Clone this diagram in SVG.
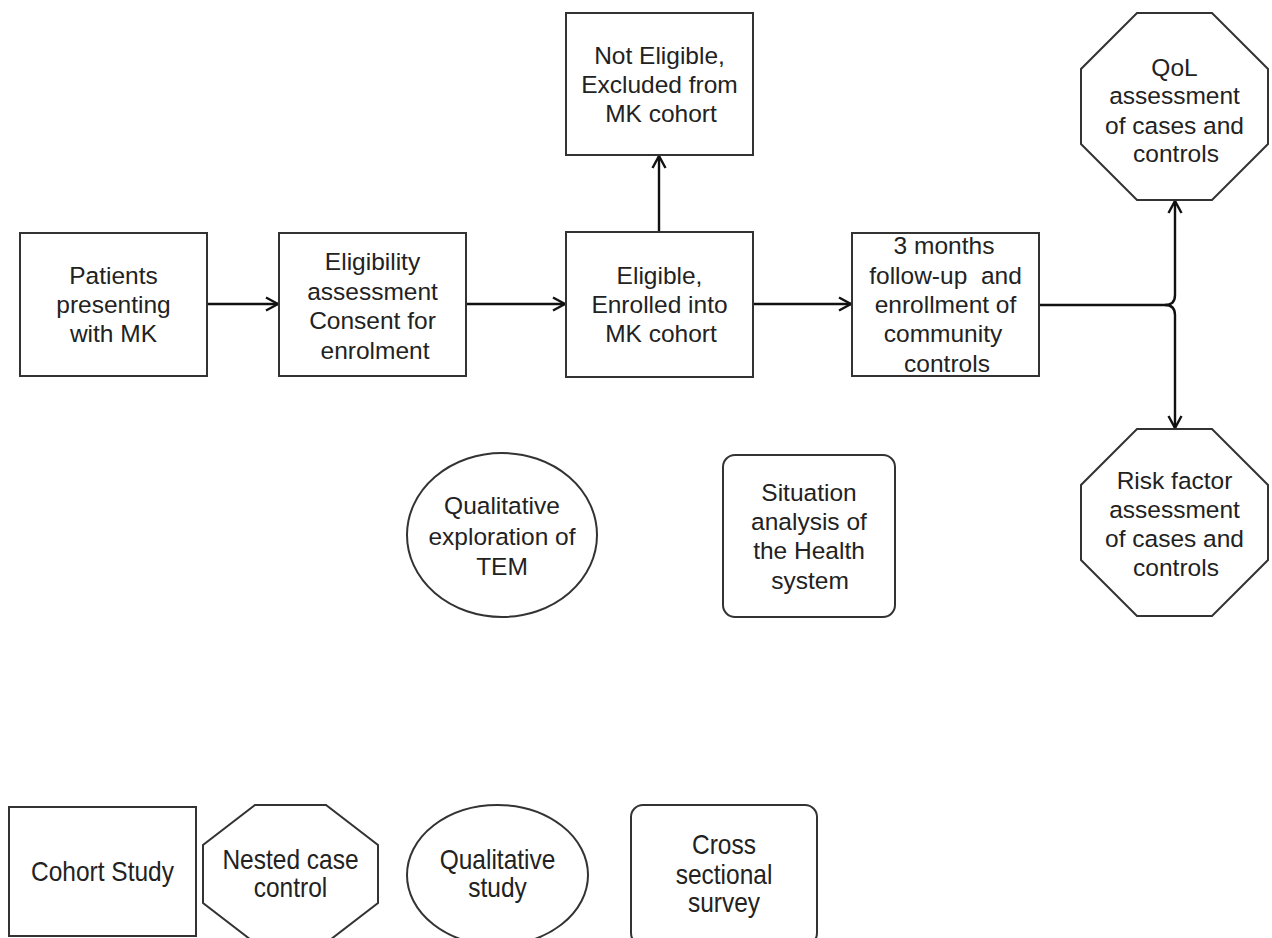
<svg xmlns="http://www.w3.org/2000/svg" width="1272" height="938" viewBox="0 0 1272 938">
  <style>
    .shape { fill: #ffffff; stroke: #333333; stroke-width: 2; }
    .lbl { font-family: "Liberation Sans", Arial, sans-serif; font-size: 24.5px; fill: #222222; text-anchor: middle; }
    .edge { fill: none; stroke: #111111; stroke-width: 2.4; }
  </style>
  <defs>
    <marker id="open" markerUnits="userSpaceOnUse" viewBox="0 0 15 16" markerWidth="15" markerHeight="16" refX="13.5" refY="8" orient="auto">
      <path d="M1.5,1.5 L13.5,8 L1.5,14.5" fill="none" stroke="#111111" stroke-width="2.4"/>
    </marker>
  </defs>
  <rect width="1272" height="938" fill="#ffffff"/>

  <!-- connectors -->
  <g id="connectors">
    <path class="edge" d="M207,304 H278" marker-end="url(#open)"/>
    <path class="edge" d="M466,304 H565" marker-end="url(#open)"/>
    <path class="edge" d="M659,232 V156" marker-end="url(#open)"/>
    <path class="edge" d="M753,304 H851" marker-end="url(#open)"/>
    <path class="edge" d="M1039,305 H1165 Q1175,305 1175,295 V201" marker-end="url(#open)"/>
    <path class="edge" d="M1165,305 Q1175,305 1175,315 V428" marker-end="url(#open)"/>
  </g>

  <!-- flow nodes -->
  <g id="patients">
    <rect class="shape" x="20" y="233" width="187" height="143"/>
    <text class="lbl" x="113.5" y="283.5">Patients</text>
    <text class="lbl" x="113.5" y="313">presenting</text>
    <text class="lbl" x="113.5" y="342">with MK</text>
  </g>
  <g id="eligibility">
    <rect class="shape" x="279" y="233" width="187" height="143"/>
    <text class="lbl" x="372.5" y="270">Eligibility</text>
    <text class="lbl" x="372.5" y="299.5">assessment</text>
    <text class="lbl" x="372.5" y="329">Consent for</text>
    <text class="lbl" x="375" y="358.5">enrolment</text>
  </g>
  <g id="eligible">
    <rect class="shape" x="566" y="232" width="187" height="145"/>
    <text class="lbl" x="659.5" y="283.5">Eligible,</text>
    <text class="lbl" x="659.5" y="312.5">Enrolled into</text>
    <text class="lbl" x="661" y="342">MK cohort</text>
  </g>
  <g id="not-eligible">
    <rect class="shape" x="566" y="13" width="187" height="142"/>
    <text class="lbl" x="659.5" y="63.5">Not Eligible,</text>
    <text class="lbl" x="659.5" y="93">Excluded from</text>
    <text class="lbl" x="661" y="122">MK cohort</text>
  </g>
  <g id="follow-up">
    <rect class="shape" x="852" y="233" width="187" height="143"/>
    <text class="lbl" x="944" y="254">3 months</text>
    <text class="lbl" x="945.5" y="283.5" xml:space="preserve">follow-up  and</text>
    <text class="lbl" x="945.5" y="312.5">enrollment of</text>
    <text class="lbl" x="943" y="342">community</text>
    <text class="lbl" x="947" y="371.5">controls</text>
  </g>
  <g id="qol">
    <polygon class="shape" points="1137,13 1212,13 1268,69 1268,144 1212,200 1137,200 1081,144 1081,69"/>
    <text class="lbl" x="1174.5" y="75.5">QoL</text>
    <text class="lbl" x="1174.5" y="104">assessment</text>
    <text class="lbl" x="1174.5" y="133.5">of cases and</text>
    <text class="lbl" x="1176" y="162">controls</text>
  </g>
  <g id="risk-factor">
    <polygon class="shape" points="1137,429 1212,429 1268,485 1268,560 1212,616 1137,616 1081,560 1081,485"/>
    <text class="lbl" x="1174.5" y="489">Risk factor</text>
    <text class="lbl" x="1174.5" y="518">assessment</text>
    <text class="lbl" x="1174.5" y="547">of cases and</text>
    <text class="lbl" x="1176" y="576">controls</text>
  </g>
  <g id="qualitative-tem">
    <ellipse class="shape" cx="502" cy="535" rx="95" ry="82"/>
    <text class="lbl" x="502" y="513.5">Qualitative</text>
    <text class="lbl" x="502" y="545">exploration of</text>
    <text class="lbl" x="502" y="575">TEM</text>
  </g>
  <g id="situation-analysis">
    <rect class="shape" x="723" y="455" width="172" height="162" rx="12" ry="12"/>
    <text class="lbl" x="809" y="500.5">Situation</text>
    <text class="lbl" x="809" y="530">analysis of</text>
    <text class="lbl" x="809" y="559">the Health</text>
    <text class="lbl" x="810" y="588.5">system</text>
  </g>

  <!-- key of study designs -->
  <g id="key-cohort">
    <rect class="shape" x="9" y="807" width="187" height="129"/>
    <g transform="translate(102.5,872) scale(1,1.1)">
      <text class="lbl" x="0" y="8.5">Cohort Study</text>
    </g>
  </g>
  <g id="key-nested">
    <polygon class="shape" points="255,805 326,805 378,845 378,903 326,943 255,943 203,903 203,845"/>
    <g transform="translate(290.5,874) scale(1,1.1)">
      <text class="lbl" x="0" y="-4.2">Nested case</text>
      <text class="lbl" x="0" y="21.2">control</text>
    </g>
  </g>
  <g id="key-qualitative">
    <ellipse class="shape" cx="497.5" cy="875" rx="90.5" ry="70"/>
    <g transform="translate(497.5,874) scale(1,1.1)">
      <text class="lbl" x="0" y="-4.2">Qualitative</text>
      <text class="lbl" x="0" y="21.2">study</text>
    </g>
  </g>
  <g id="key-cross-sectional">
    <rect class="shape" x="631" y="805" width="186" height="140" rx="12" ry="12"/>
    <g transform="translate(724,874) scale(1,1.1)">
      <text class="lbl" x="0" y="-17.9">Cross</text>
      <text class="lbl" x="0" y="9.4">sectional</text>
      <text class="lbl" x="0" y="34.9">survey</text>
    </g>
  </g>
</svg>
